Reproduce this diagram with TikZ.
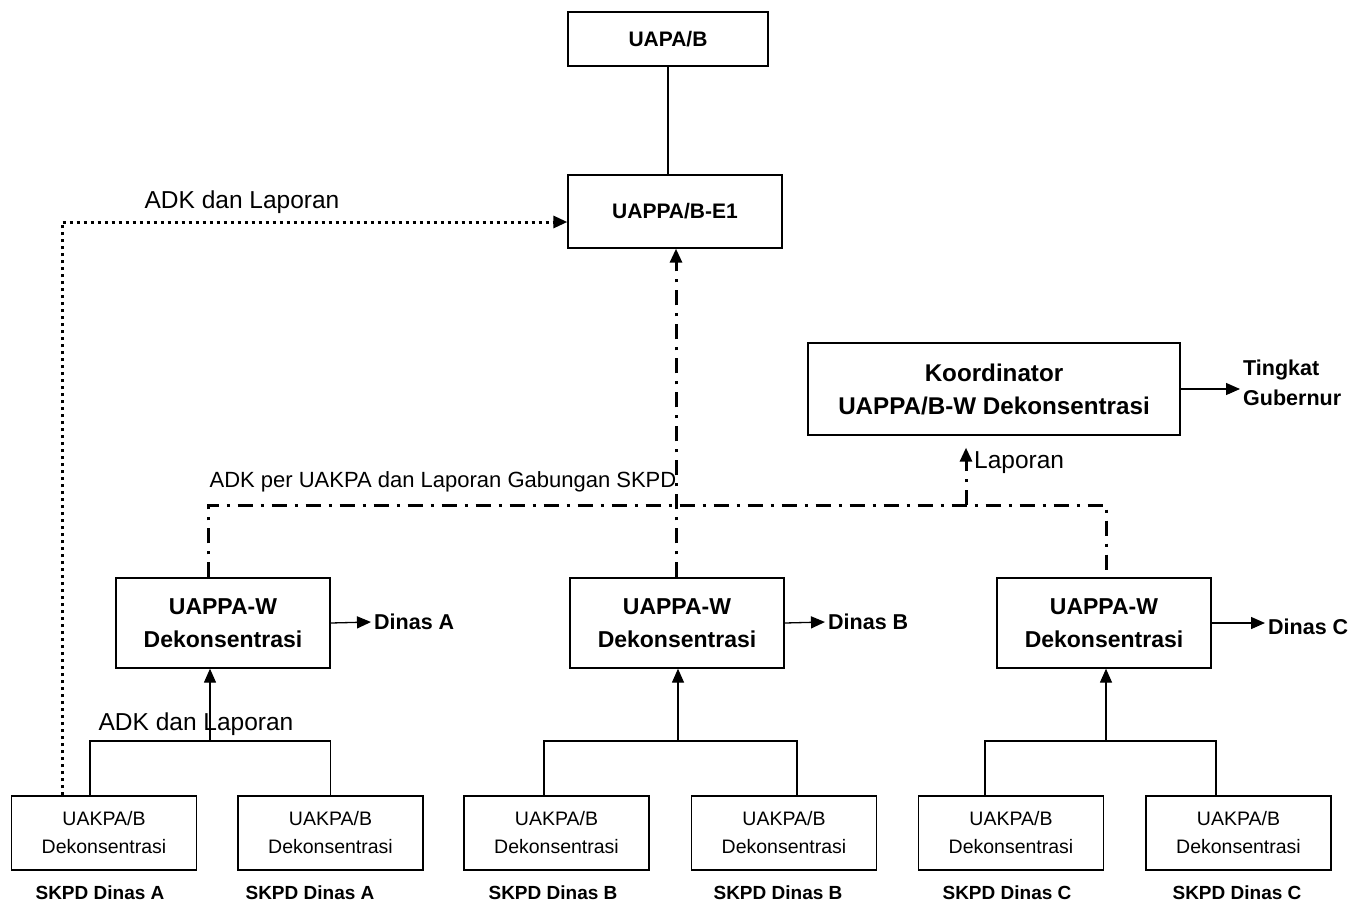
\documentclass[tikz,border=0pt]{standalone}
\usepackage{fontspec}
\setmainfont{Liberation Sans}
\usetikzlibrary{arrows.meta}
\begin{document}
\begin{tikzpicture}[x=1pt,y=-1pt,
  box/.style={draw, line width=1.3pt, inner sep=0pt, align=center},
  conn/.style={line width=1.3pt},
  tip/.style={-{Triangle[length=14pt,width=12pt]}},
  dashdot/.style={line width=3pt, dash pattern=on 15pt off 8pt on 3pt off 8pt},
  dotline/.style={line width=3pt, dash pattern=on 3pt off 4pt},
  fTop/.style={font=\fontsize{21}{25}\selectfont\bfseries},
  fW/.style={font=\fontsize{23}{33}\selectfont\bfseries},
  fK/.style={font=\fontsize{24.2}{33}\selectfont\bfseries},
  fU/.style={font=\fontsize{19.5}{28}\selectfont},
  fS/.style={font=\fontsize{19}{22}\selectfont\bfseries},
  fD/.style={font=\fontsize{21.5}{30}\selectfont\bfseries},
  fL/.style={font=\fontsize{24.5}{27}\selectfont},
  fLs/.style={font=\fontsize{22}{27}\selectfont},
  wbox/.style={box, fW, minimum width=214pt, minimum height=90pt},
  ubox/.style={box, fU, minimum width=185pt, minimum height=74pt}
]
\useasboundingbox (0,0) rectangle (1366,906);

% top boxes
\node[box, fTop, minimum width=200pt, minimum height=54pt] (uapa) at (668,39) {UAPA/B};
\node[box, fTop, minimum width=214pt, minimum height=73pt] (e1) at (675,211.5) {UAPPA/B-E1};
\node[box, fK, minimum width=372pt, minimum height=92pt] (koord) at (994,389) {Koordinator\\UAPPA/B-W Dekonsentrasi};
\node[fD, anchor=west, align=left, inner sep=3pt] (ting) at (1240,383) {Tingkat\\Gubernur};

% UAPPA-W boxes
\node[wbox] (wA) at (223,623) {UAPPA-W\\Dekonsentrasi};
\node[wbox] (wB) at (677,623) {UAPPA-W\\Dekonsentrasi};
\node[wbox] (wC) at (1104,623) {UAPPA-W\\Dekonsentrasi};
\node[fD, anchor=west, inner sep=3pt] (dA) at (371,622) {Dinas A};
\node[fD, anchor=west, inner sep=3pt] (dB) at (825,622) {Dinas B};
\node[fD, anchor=west, inner sep=3pt] (dC) at (1265,627) {Dinas C};

% bottom boxes
\node[ubox] (b1) at (104,833) {UAKPA/B\\Dekonsentrasi};
\node[ubox] (b2) at (330.5,833) {UAKPA/B\\Dekonsentrasi};
\node[ubox] (b3) at (556.5,833) {UAKPA/B\\Dekonsentrasi};
\node[ubox] (b4) at (784,833) {UAKPA/B\\Dekonsentrasi};
\node[ubox] (b5) at (1011,833) {UAKPA/B\\Dekonsentrasi};
\node[ubox] (b6) at (1238.5,833) {UAKPA/B\\Dekonsentrasi};
\node[fS] (s1) at (100,893) {SKPD Dinas A};
\node[fS] (s2) at (310,893) {SKPD Dinas A};
\node[fS] (s3) at (553,893) {SKPD Dinas B};
\node[fS] (s4) at (778,893) {SKPD Dinas B};
\node[fS] (s5) at (1007,893) {SKPD Dinas C};
\node[fS] (s6) at (1237,893) {SKPD Dinas C};

% labels
\node[fL] (l1) at (242,202) {ADK dan Laporan};
\node[fLs] (l2) at (443,482) {ADK per UAKPA dan Laporan Gabungan SKPD};
\node[fL] (l3) at (196,724) {ADK dan Laporan};
\node[fL, anchor=west, inner sep=1pt] (l4) at (973,463) {Laporan};

% solid connectors
\draw[conn] (uapa.south) -- (e1.north -| uapa.south);
\draw[conn, tip] (koord.east) -- (ting.west |- koord.east);
\draw[conn, tip] (wA.east) -- (dA.west);
\draw[conn, tip] (wB.east) -- (dB.west);
\draw[conn, tip] (wC.east) -- (dC.west |- wC.east);

\coordinate (jA) at (210,741);
\coordinate (jB) at (678,741);
\coordinate (jC) at (1106,741);
\draw[conn] ([xshift=-14pt]b1.north) |- (jA) -| (b2.north);
\draw[conn, tip] (jA) -- (wA.south -| jA);
\draw[conn] ([xshift=-12.5pt]b3.north) |- (jB) -| ([xshift=13pt]b4.north);
\draw[conn, tip] (jB) -- (wB.south -| jB);
\draw[conn] ([xshift=-26pt]b5.north) |- (jC) -| ([xshift=-22.5pt]b6.north);
\draw[conn, tip] (jC) -- (wC.south -| jC);

% dotted connector
\coordinate (dotY) at (0,222);
\draw[dotline, tip] ([xshift=-42pt]b1.north) |- (e1.west |- dotY);

% dash-dot connectors
\coordinate (hL) at (208,505);
\coordinate (hR) at (1106,505);
\coordinate (hK) at (966,505);
\draw[dashdot] (wA.north -| hL) -- (hL) -- (hR) -- (wC.north -| hR);
\draw[dashdot, tip] (wB.north -| 676,0) -- (e1.south -| 676,0);
\draw[dashdot, tip, shorten >=12pt] (hK) -- (koord.south -| hK);
\end{tikzpicture}
\end{document}
